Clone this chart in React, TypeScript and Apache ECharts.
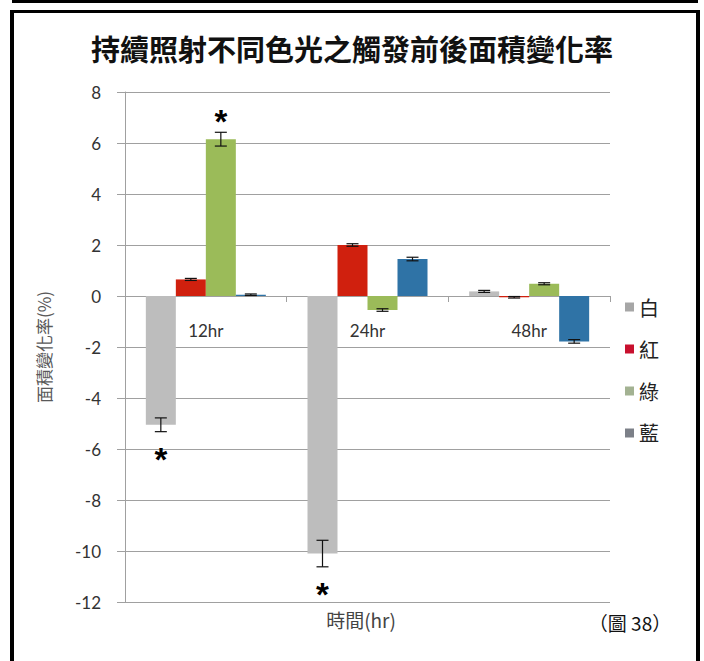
import React, { useEffect, useRef } from "react";
import * as echarts from "echarts";

const categories = ["12hr", "24hr", "48hr"];
const seriesNames = ["白", "紅", "綠", "藍"];
const whiteValues = [-5.05, -10.1, 0.18];
const redValues = [0.65, 2.0, -0.05];
const greenValues = [6.15, -0.55, 0.48];
const blueValues = [0.05, 1.45, -1.78];
const whiteErr = [0.27, 0.52, 0.04];
const redErr = [0.04, 0.05, 0.03];
const greenErr = [0.27, 0.05, 0.04];
const blueErr = [0.03, 0.07, 0.07];
// star: 0 none, 1 above, -1 below
const whiteStar = [-1, -1, 0];
const redStar = [0, 0, 0];
const greenStar = [1, 0, 0];
const blueStar = [0, 0, 0];
const yTicks = { min: -12, max: 8, interval: 2 };

const barColors = ["#BDBDBD", "#D0200E", "#9BBB59", "#2F73A6"];
const legendColors = ["#A6A6A6", "#C8102E", "#A3B292", "#7C8088"];

export default function App() {
  const ref = useRef<HTMLDivElement>(null);
  useEffect(() => {
    document.body.style.margin = "0";
    const chart = echarts.init(ref.current!, null, { renderer: "svg" });
    const values = [whiteValues, redValues, greenValues, blueValues];
    const errs = [whiteErr, redErr, greenErr, blueErr];
    const stars = [whiteStar, redStar, greenStar, blueStar];
    const barWidth = 30;
    const gridTop = 92;
    const gridBottomPx = 602;
    const zeroY =
      gridTop + ((yTicks.max - 0) / (yTicks.max - yTicks.min)) * (gridBottomPx - gridTop);
    const errData: number[][] = [];
    values.forEach((vals, s) => {
      vals.forEach((v, c) => {
        errData.push([c, s, v - errs[s][c], v + errs[s][c], stars[s][c]]);
      });
    });
    const font = "Lato, 'Open Sans', sans-serif";
    const cjk = "'Noto Sans CJK TC', sans-serif";
    chart.setOption({
      animation: false,
      backgroundColor: "#ffffff",
      title: {
        text: "持續照射不同色光之觸發前後面積變化率",
        left: "center",
        top: 28,
        textStyle: { fontFamily: cjk, fontSize: 29, fontWeight: "bold", color: "#111" },
      },
      legend: {
        orient: "vertical",
        left: 620,
        top: 292,
        itemGap: 22,
        itemWidth: 9,
        itemHeight: 9,
        icon: "rect",
        textStyle: { fontFamily: cjk, fontSize: 20, color: "#222" },
        data: seriesNames.map((n, i) => ({ name: n, itemStyle: { color: legendColors[i] } })),
      },
      grid: { left: 125, right: 94, top: gridTop, bottom: 661 - gridBottomPx },
      xAxis: {
        type: "category",
        data: categories,
        position: "bottom",
        offset: -(gridBottomPx - zeroY),
        axisLine: { onZero: false, lineStyle: { color: "#A0A0A0", width: 1 } },
        axisTick: { show: true, length: 6, inside: false, lineStyle: { color: "#A0A0A0" } },
        axisLabel: { margin: 26, fontFamily: font, fontSize: 17, color: "#333" },
        splitLine: { show: false },
      },
      yAxis: {
        type: "value",
        min: yTicks.min,
        max: yTicks.max,
        interval: yTicks.interval,
        name: "面積變化率(%)",
        nameLocation: "middle",
        nameGap: 73,
        nameRotate: 90,
        nameTextStyle: { fontFamily: cjk, fontSize: 17, color: "#595959" },
        axisLine: { show: true, lineStyle: { color: "#A0A0A0" } },
        axisTick: { show: true, length: 8, lineStyle: { color: "#A0A0A0" } },
        axisLabel: { margin: 24, fontFamily: font, fontSize: 17, color: "#333" },
        splitLine: { show: true, lineStyle: { color: "#A0A0A0", width: 1 } },
      },
      series: [
        ...values.map((vals, i) => ({
          type: "bar",
          name: seriesNames[i],
          data: vals,
          barWidth,
          barGap: "0%",
          itemStyle: { color: barColors[i] },
        })),
        {
          type: "custom",
          name: "err",
          data: errData,
          z: 10,
          encode: { x: 0, y: [2, 3] },
          renderItem: (params: any, api: any) => {
            const c = api.value(0);
            const s = api.value(1);
            const lo = api.value(2);
            const hi = api.value(3);
            const star = api.value(4);
            const xc = api.coord([c, 0])[0] + (s - 1.5) * barWidth;
            const yLo = api.coord([c, lo])[1];
            const yHi = api.coord([c, hi])[1];
            const st = { stroke: "#111", lineWidth: 1.2 };
            const children: any[] = [
              { type: "line", shape: { x1: xc, y1: yLo, x2: xc, y2: yHi }, style: st },
              { type: "line", shape: { x1: xc - 6, y1: yLo, x2: xc + 6, y2: yLo }, style: st },
              { type: "line", shape: { x1: xc - 6, y1: yHi, x2: xc + 6, y2: yHi }, style: st },
            ];
            if (star !== 0) {
              const ty = star > 0 ? yHi - 19 : yLo + 20;
              children.push({
                type: "text",
                style: {
                  text: "*",
                  x: xc,
                  y: ty + 8,
                  align: "center",
                  verticalAlign: "middle",
                  fontSize: 33,
                  fontWeight: "bold",
                  fontFamily: "'Liberation Sans', sans-serif",
                  fill: "#000",
                },
              });
            }
            return { type: "group", children };
          },
        },
      ],
      graphic: [
        { type: "rect", shape: { x: 12, y: 0, width: 686, height: 3 }, style: { fill: "#000" } },
        { type: "rect", shape: { x: 10, y: 10, width: 690, height: 3 }, style: { fill: "#000" } },
        { type: "rect", shape: { x: 10, y: 10, width: 4, height: 651 }, style: { fill: "#000" } },
        { type: "rect", shape: { x: 696, y: 10, width: 4, height: 651 }, style: { fill: "#000" } },
        {
          type: "text",
          x: 361,
          y: 619,
          style: {
            text: "時間(hr)",
            align: "center",
            verticalAlign: "middle",
            fontFamily: cjk,
            fontSize: 19,
            fill: "#444",
          },
        },
        {
          type: "text",
          x: 630,
          y: 622,
          style: {
            text: "（圖 38）",
            align: "center",
            verticalAlign: "middle",
            fontFamily: cjk,
            fontSize: 19,
            fill: "#111",
          },
        },
      ],
    });
    return () => chart.dispose();
  }, []);
  return (
    <div
      ref={ref}
      style={{ position: "absolute", left: 0, top: 0, width: 704, height: 661 }}
    />
  );
}
